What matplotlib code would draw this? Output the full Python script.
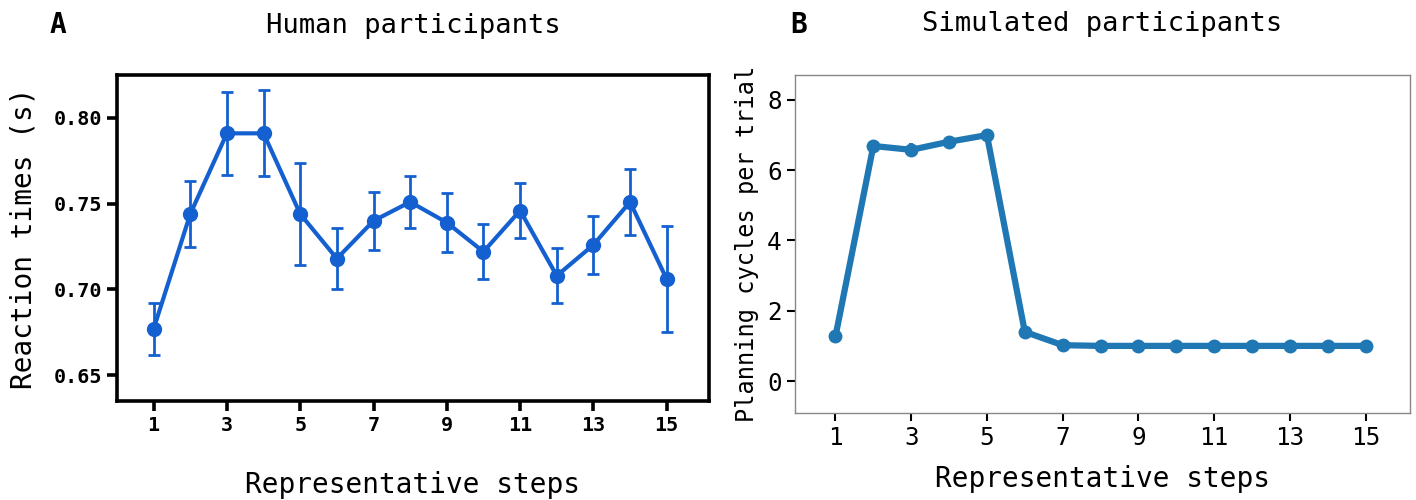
import matplotlib
matplotlib.use("Agg")
import matplotlib.pyplot as plt
import numpy as np

plt.rcParams["font.family"] = ["DejaVu Sans Mono", "DejaVu Sans"]

steps = np.arange(1, 16)

# panel A: human reaction times (s)
human_rt = [0.677, 0.744, 0.791, 0.791, 0.744, 0.718, 0.740, 0.751, 0.739,
            0.722, 0.746, 0.708, 0.726, 0.751, 0.706]
human_err = [0.015, 0.019, 0.024, 0.025, 0.030, 0.018, 0.017, 0.015, 0.017,
             0.016, 0.016, 0.016, 0.017, 0.019, 0.031]

# panel B: simulated planning cycles
sim_cycles = [1.27, 6.69, 6.58, 6.81, 7.00, 1.40, 1.02, 1.0, 1.0,
              1.0, 1.0, 1.0, 1.0, 1.0, 1.0]
sim_err = [0.12, 0.15, 0.2, 0.15, 0.1, 0.12, 0.04, 0.02, 0.02,
           0.02, 0.02, 0.02, 0.02, 0.02, 0.02]

odd_ticks = steps[::2]

fig = plt.figure(figsize=(14.16, 5), dpi=100)

# ---- A ----
axA = fig.add_axes([0.0826, 0.198, 0.418, 0.652])
blue_a = "#1560d0"
axA.errorbar(steps, human_rt, yerr=human_err, color=blue_a, lw=3, marker="o",
             ms=10, elinewidth=2, capsize=4, capthick=2)
axA.set_xlim(0, 16.15)
axA.set_ylim(0.635, 0.825)
axA.set_xticks(odd_ticks)
axA.set_yticks([0.65, 0.70, 0.75, 0.80])
axA.set_yticklabels(["0.65", "0.70", "0.75", "0.80"])
for s in axA.spines.values():
    s.set_linewidth(2.6)
axA.tick_params(width=2.6, length=7, labelsize=14.5)
for lab in axA.get_xticklabels() + axA.get_yticklabels():
    lab.set_fontweight("bold")
axA.set_title("Human participants", fontsize=19.5, pad=30)
axA.set_xlabel("Representative steps", fontsize=20, labelpad=26)
axA.set_ylabel("Reaction times (s)", fontsize=20, labelpad=12)

# ---- B ----
axB = fig.add_axes([0.5614, 0.174, 0.4343, 0.676])
blue_b = "#1f77b4"
axB.errorbar(steps, sim_cycles, yerr=sim_err, color=blue_b, lw=4.5, marker="o",
             ms=9, elinewidth=3)
axB.set_xlim(-0.07, 16.17)
axB.set_ylim(-0.91, 8.71)
axB.set_xticks(odd_ticks)
axB.set_yticks([0, 2, 4, 6, 8])
for s in axB.spines.values():
    s.set_linewidth(1)
    s.set_color("#888888")
axB.tick_params(labelsize=17.5, length=6, width=1.5)
axB.set_title("Simulated participants", fontsize=19.5, pad=32)
axB.set_xlabel("Representative steps", fontsize=20, labelpad=11)
axB.set_ylabel("Planning cycles per trial", fontsize=17, labelpad=6)

fig.text(0.035, 0.95, "A", fontsize=20, fontweight="bold", va="center")
fig.text(0.558, 0.95, "B", fontsize=20, fontweight="bold", va="center")

fig.savefig("out.png", dpi=100)
